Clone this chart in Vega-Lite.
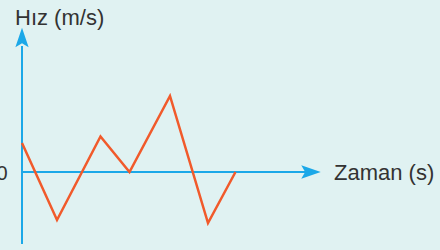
{
  "$schema": "https://vega.github.io/schema/vega-lite/v6.json",
  "width": 440,
  "height": 250,
  "autosize": {"type": "fit", "contains": "padding"},
  "padding": 0,
  "background": "#e0f2f2",
  "config": {"view": {"stroke": null}},
  "layer": [
    {
      "data": {"values": [
        {"axis": "y", "t": 0, "v": -7.2},
        {"axis": "y", "t": 0, "v": 12.6},
        {"axis": "x", "t": 0, "v": 0},
        {"axis": "x", "t": 28.6, "v": 0}
      ]},
      "mark": {"type": "line", "color": "#1ba8e8", "strokeWidth": 2},
      "encoding": {
        "x": {"field": "t", "type": "quantitative", "scale": {"domain": [-2.2, 41.8], "nice": false, "zero": false}, "axis": null},
        "y": {"field": "v", "type": "quantitative", "scale": {"domain": [-7.8, 17.2], "nice": false, "zero": false}, "axis": null},
        "detail": {"field": "axis"}
      }
    },
    {
      "data": {"values": [
        {"t": 0, "v": 13.45, "angle": 0},
        {"t": 28.9, "v": 0, "angle": 90}
      ]},
      "mark": {"type": "point", "filled": true, "opacity": 1, "color": "#1ba8e8", "shape": "M0,-1L0.68,1L0,0.6L-0.68,1Z", "size": 380},
      "encoding": {
        "x": {"field": "t", "type": "quantitative", "scale": {"domain": [-2.2, 41.8], "nice": false, "zero": false}, "axis": null},
        "y": {"field": "v", "type": "quantitative", "scale": {"domain": [-7.8, 17.2], "nice": false, "zero": false}, "axis": null},
        "angle": {"field": "angle", "type": "quantitative", "scale": null}
      }
    },
    {
      "data": {"values": [
        {"t": 0, "v": 2.9},
        {"t": 3.5, "v": -4.8},
        {"t": 7.85, "v": 3.55},
        {"t": 10.75, "v": 0},
        {"t": 14.8, "v": 7.6},
        {"t": 18.6, "v": -5.1},
        {"t": 21.35, "v": 0}
      ]},
      "mark": {"type": "line", "color": "#f15a2b", "strokeWidth": 2.5},
      "encoding": {
        "x": {"field": "t", "type": "quantitative", "scale": {"domain": [-2.2, 41.8], "nice": false, "zero": false}, "axis": null},
        "y": {"field": "v", "type": "quantitative", "scale": {"domain": [-7.8, 17.2], "nice": false, "zero": false}, "axis": null}
      }
    },
    {
      "data": {"values": [
        {"label": "Hız (m/s)", "t": -0.7, "v": 14.7},
        {"label": "Zaman (s)", "t": 31.2, "v": -0.8}
      ]},
      "mark": {"type": "text", "align": "left", "baseline": "alphabetic", "font": "Liberation Sans", "fontSize": 22, "color": "#333333"},
      "encoding": {
        "x": {"field": "t", "type": "quantitative", "scale": {"domain": [-2.2, 41.8], "nice": false, "zero": false}, "axis": null},
        "y": {"field": "v", "type": "quantitative", "scale": {"domain": [-7.8, 17.2], "nice": false, "zero": false}, "axis": null},
        "text": {"field": "label"}
      }
    },
    {
      "data": {"values": [
        {"label": "0", "t": -1.45, "v": -0.8}
      ]},
      "mark": {"type": "text", "align": "right", "baseline": "alphabetic", "font": "Liberation Sans", "fontSize": 20, "color": "#333333", "clip": true},
      "encoding": {
        "x": {"field": "t", "type": "quantitative", "scale": {"domain": [-2.2, 41.8], "nice": false, "zero": false}, "axis": null},
        "y": {"field": "v", "type": "quantitative", "scale": {"domain": [-7.8, 17.2], "nice": false, "zero": false}, "axis": null},
        "text": {"field": "label"}
      }
    }
  ]
}
